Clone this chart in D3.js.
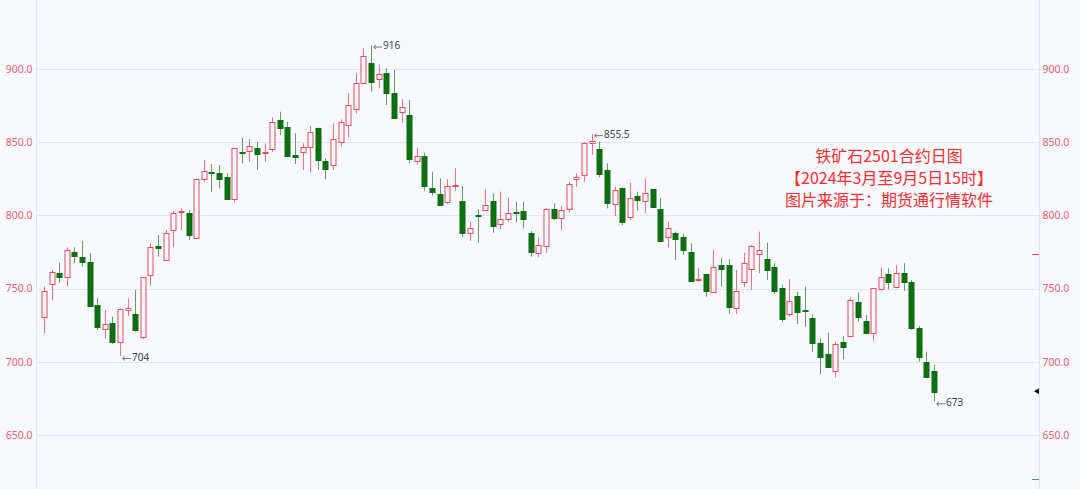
<!DOCTYPE html>
<html><head><meta charset="utf-8">
<script src="https://cdn.jsdelivr.net/npm/d3@7"></script>
<style>
html,body{margin:0;padding:0;background:#f7f9fe;}
svg{display:block;}
</style></head>
<body>
<svg id="c" width="1080" height="489"></svg>
<script>
const openP = [730.8,752.9,760.5,758.1,775.2,771.4,768.4,738.8,722.2,726.3,713.7,735.5,732.7,716.7,759.3,779.1,769.5,790,802.5,801.4,
784.4,824.7,829.9,828.8,826.4,811.4,843.5,844.2,845.8,842.5,845.2,865.2,860.6,841.3,843.3,846.5,859.5,837.4,834.4,850.3,
861.7,872.7,890.2,904.3,893,897.1,883.8,870.4,868.6,837.2,840.6,818.9,814.4,809.4,819.9,810,788.2,800.3,803.7,810,
793.9,797.3,802.1,803,788.2,774.5,779.1,804.4,798,804.2,825.2,827.4,849.3,845.2,831,807.8,818.9,799.1,813.3,810,
818,804.4,785,787.8,785.5,775.2,755.9,760,747.9,766.1,766.1,736.5,754.7,763.2,773.4,770.2,765,750.2,732.4,745,
735.4,730.1,712.6,705.3,693.9,713.3,717.8,740.6,728.1,719.9,749.5,760,750.9,760.5,754.3,722.9,700.1,693.9];
const highP = [751.3,762.7,767.7,778.2,778.2,782.7,774.1,743.4,735.4,730.8,736.5,743.4,749,758,781,786.6,790,803,804.9,803.7,
825,837.8,835.1,834.4,828.8,846,853,852,850.3,849.2,867,870.8,864,856,849.2,861.1,860,839,862.9,865.6,
883.4,897.1,914.1,916,902.7,900.5,899.3,879.3,878.8,846.2,842.8,829.9,825.3,824.7,832.2,820.1,795.7,804.2,817.8,815.1,
816.2,812.1,809.4,809.4,789.3,785,804.9,808.3,806.4,823,828.8,850,855.5,850.3,835.6,819.6,819,822.3,816.2,825.3,
818,811.7,795.7,788.9,787.3,781,764.3,760,776.4,770.7,770,762.7,774.5,780,788.9,781.4,767.3,752.5,756.4,747.9,
751.3,732.4,716,719.9,713.7,717.6,744,747.2,731.9,750.5,764.5,763.9,766.1,767.3,755.9,724.5,706.9,697.8];
const lowP = [719.7,742.2,754,751.8,767.3,765,738,721.7,716.1,712.2,704,731.3,720.6,715.6,752,771.8,769,778.2,790,783.2,
784,823,816.2,818.5,810.5,809,835.6,836.7,831,836.7,843.5,854.9,840,835.1,831,829.2,831,824.7,831,846.9,
853.3,869.7,890,884.5,886.8,875.4,866,863.3,835.6,834.9,816.9,813.5,806.4,807.8,816.9,785.5,782.7,781.4,803,788.2,
790.5,795.7,795.3,791.2,771.8,771.4,774.5,796.9,790,801.8,819.6,823,841.3,826,804.8,799.6,793.4,796.9,803.2,801.4,
805,782.5,778.2,769.5,772.9,754.7,754.7,744.5,747.9,751.3,733,732.7,751.3,749,760.5,755.9,746.3,727,730.8,725.8,
724,706.9,691.7,696.5,689.4,701.7,717,727.4,719.5,714.4,748.6,749.5,750.2,748.4,721.7,700.1,688.7,673];
const closeP = [748.6,761.1,757.7,776.4,772.3,768.4,738.1,723.6,725.8,713.7,735.9,737,721.7,757.7,778.2,777.5,788.2,801.8,803,786.6,
824.7,830.3,828.8,824.7,811.4,845.8,842.4,847.4,841.9,843,864,859.5,840.6,839.7,846.5,857.2,837.8,831.5,852.2,864,
875.4,890.2,908.9,891.3,896.4,883.4,866.3,874.2,838.5,840.6,820.3,815.8,807.1,820.3,820.5,787.8,791.2,799.6,807.1,792.8,
797.3,801.4,801.4,797.3,774.8,779.8,804.4,798.4,803.7,821.4,826.5,849.7,850.8,828.3,808.7,817.3,795.7,811.7,810.5,815.5,
805.9,782.7,791.2,783.7,776.4,755.4,756.8,748.6,765,763.2,737.2,748.6,767.3,779.1,776.4,762.7,748.6,729.2,741.7,734.2,
734.9,713,703.5,696.7,712,710.3,742.2,730.8,719.9,750.2,757.7,754.7,760.5,754.3,722.9,703.5,689.8,679.6];
const dayIndex = d3.range(openP.length);
const yTicks = [650, 700, 750, 800, 850, 900];
const extremeLabels = [
  {i: 43, v: 916, text: "916", at: "high"},
  {i: 72, v: 855.5, text: "855.5", at: "high"},
  {i: 10, v: 704, text: "704", at: "low"},
  {i: 117, v: 673, text: "673", at: "low"}
];
const titleLines = ["铁矿石2501合约日图", "【2024年3月至9月5日15时】", "图片来源于：期货通行情软件"];

const W = 1080, H = 489;
const svg = d3.select("#c");
const RED = "#ee4b58", GREEN = "#0f6e12", BG = "#f7f9fe";
const axisL = 36.5, axisR = 1039.5;

const y = d3.scaleLinear().domain([650, 900]).range([435, 69]);
const x = d3.scaleLinear().domain([0, openP.length - 1]).range([44, 934]);

svg.append("rect").attr("width", W).attr("height", H).attr("fill", BG);

// grid
svg.append("g").selectAll("line").data(yTicks).join("line")
  .attr("x1", axisL).attr("x2", axisR)
  .attr("y1", d => Math.round(y(d)) + 0.5).attr("y2", d => Math.round(y(d)) + 0.5)
  .attr("stroke", "#e1e6f2").attr("stroke-width", 1);

// axis lines
svg.append("line").attr("x1", axisL).attr("x2", axisL).attr("y1", 0).attr("y2", H).attr("stroke", "#dfe5f1");
svg.append("line").attr("x1", axisR).attr("x2", axisR).attr("y1", 0).attr("y2", H).attr("stroke", "#dfe5f1");

// axes labels via d3 axes
const fmt = d3.format(".1f");
const leftAxis = d3.axisLeft(y).tickValues(yTicks).tickFormat(fmt).tickSize(0).tickPadding(4);
const rightAxis = d3.axisRight(y).tickValues(yTicks).tickFormat(fmt).tickSize(0).tickPadding(3);
const gL = svg.append("g").attr("transform", `translate(${axisL},0)`).call(leftAxis);
const gR = svg.append("g").attr("transform", `translate(${axisR},0)`).call(rightAxis);
[gL, gR].forEach(g => {
  g.select(".domain").remove();
  g.selectAll("text").attr("fill", "#e8606b").style("font-family", "'Noto Sans', sans-serif").style("font-size", "10.5px");
});

// candles
const cg = svg.append("g");
dayIndex.forEach(i => {
  const o = openP[i], c = closeP[i], h = highP[i], l = lowP[i];
  const up = c >= o;
  const cx = Math.round(x(i)) + 0.5;
  const top = Math.round(y(Math.max(o, c))), bot = Math.round(y(Math.min(o, c)));
  const col = up ? RED : GREEN;
  cg.append("line").attr("x1", cx).attr("x2", cx)
    .attr("y1", y(h)).attr("y2", y(l))
    .attr("stroke", up ? "#f0707c" : "#5f9f5f").attr("stroke-width", 1);
  if (up) {
    cg.append("rect").attr("x", cx - 2.5).attr("y", top + 0.5)
      .attr("width", 5).attr("height", Math.max(1, bot - top))
      .attr("fill", BG).attr("stroke", col).attr("stroke-width", 1);
  } else {
    cg.append("rect").attr("x", cx - 3).attr("y", top)
      .attr("width", 6).attr("height", Math.max(1.5, bot - top + 1))
      .attr("fill", col);
  }
});

// extreme labels (arrow + value)
const lg = svg.append("g").selectAll("g").data(extremeLabels).join("g")
  .attr("transform", d => `translate(${Math.round(x(d.i)) + 2},${y(d.v) + (d.at === "high" ? 1 : 2)})`);
lg.append("line").attr("x1", 1).attr("x2", 9).attr("y1", 0.5).attr("y2", 0.5).attr("stroke", "#555").attr("stroke-width", 0.8);
lg.append("path").attr("d", "M0.5,0.5 L3,-1.5 M0.5,0.5 L3,2.5").attr("stroke", "#555").attr("stroke-width", 0.8).attr("fill", "none");
lg.append("text").attr("x", 10).attr("y", 0)
  .attr("dominant-baseline", "middle")
  .attr("fill", "#444")
  .style("font-family", "'Noto Sans', sans-serif").style("font-size", "10px")
  .text(d => d.text);

// right-axis markers
const lastClose = closeP[closeP.length - 1];
svg.append("line").attr("x1", 1032).attr("x2", 1039).attr("y1", 254.5).attr("y2", 254.5).attr("stroke", RED);
svg.append("line").attr("x1", 1032).attr("x2", 1039).attr("y1", 479.5).attr("y2", 479.5).attr("stroke", "#4a9a4a");
const ty = y(lastClose) - 0.5;
svg.append("path").attr("d", `M1034,${ty} L1039,${ty - 3} L1039,${ty + 3} Z`).attr("fill", "#111");

// title
svg.append("g").selectAll("text").data(titleLines).join("text")
  .attr("x", 889).attr("y", (d, k) => 158 + k * 22)
  .attr("text-anchor", "middle").attr("dominant-baseline", "middle")
  .attr("fill", "#ff2d2d")
  .style("font-family", "'Noto Sans CJK SC', sans-serif").style("font-size", "16px")
  .text(d => d);
</script>
</body></html>
